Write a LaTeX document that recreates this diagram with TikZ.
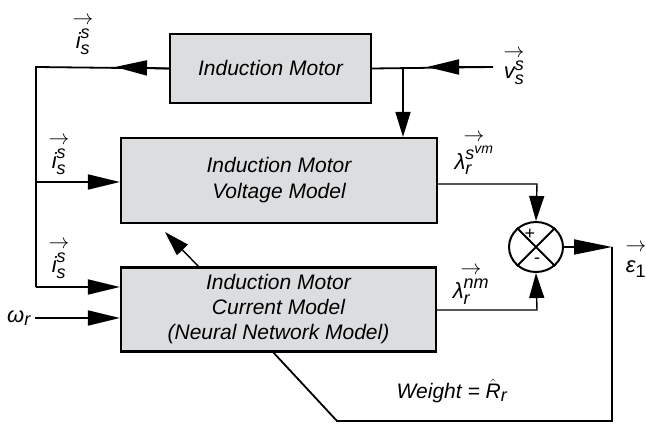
\documentclass[tikz,border=0pt]{standalone}
\usepackage{amsmath}
\usepackage{fontspec}
\setmainfont{Liberation Sans}
\usetikzlibrary{arrows.meta,shapes.geometric,calc}
\definecolor{boxgray}{HTML}{DCDDDF}
\newcommand{\scf}{\fontsize{18}{18}\selectfont}
\newcommand{\sx}[3]{$\mbox{#1}^{\mbox{\scf #2}}_{\mbox{\scf #3}}$}
\newcommand{\vlab}[1]{\begin{tabular}{@{}c@{}}{\fontsize{21}{21}\selectfont$\rightarrow$}\\[-3pt]#1\end{tabular}}
\begin{document}
\begin{tikzpicture}[x=1pt,y=-1pt,
  txt/.style={font=\fontsize{22}{24}\selectfont\itshape, inner sep=0pt},
  blk/.style={draw, line width=2.2pt, fill=boxgray, align=center, inner sep=0pt,
    font=\fontsize{21}{25}\selectfont\itshape},
  wire/.style={line width=1.8pt},
  arr/.style={line width=1.8pt, -{Triangle[length=32pt,width=15pt]}},
  sarr/.style={line width=1.4pt, -{Triangle[length=25pt,width=15pt]}}
]
\useasboundingbox (0,0) rectangle (646,425);

% blocks
\node[blk, minimum width=201pt, minimum height=69pt] (im) at (270.5,68.5) {Induction Motor};
\node[blk, minimum width=316pt, minimum height=85pt] (vm) at (279,180.5)
  {Induction Motor\\[1pt] Voltage Model};
\node[blk, minimum width=315pt, minimum height=84pt] (cm) at (278.5,309.5)
  {Induction Motor\\ Current Model\\ (Neural Network Model)};
\node[draw, ellipse, line width=2pt, fill=white, minimum width=54pt, minimum height=50pt, inner sep=0pt] (sum) at (536,247) {};
\draw[line width=2pt] (sum.45) -- (sum.225) (sum.135) -- (sum.315);
\node[font=\fontsize{18}{18}\selectfont, inner sep=0pt] (plus) at (530,234) {+};
\node[font=\fontsize{18}{18}\selectfont, inner sep=0pt] (minus) at (537,261) {-};

% coordinates
\coordinate (L1) at (36,67);
\coordinate (L2) at (36,182);
\coordinate (L3) at (36,287);
\coordinate (TA) at (115,67);
\coordinate (vin) at (493,67);
\coordinate (TB) at (427,67);
\coordinate (J) at (403,67);
\coordinate (w) at (35,318);
\coordinate (A1) at (537,184);
\coordinate (A2) at (537,310);
\coordinate (O1) at (612,247);
\coordinate (O2) at (612,421);
\coordinate (O3) at (337,421);
\coordinate (D1) at (272,351);
\coordinate (D2) at (200,268);
\coordinate (DT) at (165,232);

% connectors
\draw[wire] (im.west) -- (L1) -- (L3);
\draw[arr] (im.west) -- (TA);
\draw[wire] (vin) -- (im.east);
\draw[arr] (vin) -- (TB);
\draw[sarr, line width=1.8pt] (J) -- (J |- vm.north);
\draw[arr] (L2) -- (L2 -| vm.west);
\draw[arr] (L3) -- (L3 -| cm.west);
\draw[arr] (w) -- (w -| cm.west);
\draw[sarr] (A1 -| vm.east) -- (A1) -- (sum.north);
\draw[sarr] (A2 -| cm.east) -- (A2) -- (sum.south);
\draw[line width=1.8pt, -{Triangle[length=38pt,width=15pt]}] (sum.east) -- (O1);
\draw[wire] (O1) -- (O2) -- (O3) -- (D1);
\draw[sarr] (D2) -- (DT);

% labels
\node[txt] (lab1) at (83,32) {\vlab{\sx{i}{s}{s}}};
\node[txt] (lab2) at (59,152) {\vlab{\sx{i}{s}{s}}};
\node[txt] (lab3) at (59,256) {\vlab{\sx{i}{s}{s}}};
\node[txt] (lab4) at (514,63) {\vlab{\sx{v}{s}{s}}};
\node[txt] (lab5) at (474,151) {\vlab{\sx{λ}{s\raisebox{6pt}{\fontsize{14}{14}\selectfont vm}}{r}}};
\node[txt] (lab6) at (471,282) {\vlab{\sx{λ}{nm}{r}}};
\node[txt] (lab7) at (636,257) {\vlab{$\mbox{ε}_{\mbox{\scf\upshape 1}}$}};
\node[txt] (lab8) at (19,318) {$\mbox{ω}_{\mbox{\scf r}}$};
\node[txt, font=\fontsize{21}{25}\selectfont\itshape] (lab9) at (452,391) {Weight = $\hat{\mbox{R}}_{\mbox{\scf r}}$};
\end{tikzpicture}
\end{document}
